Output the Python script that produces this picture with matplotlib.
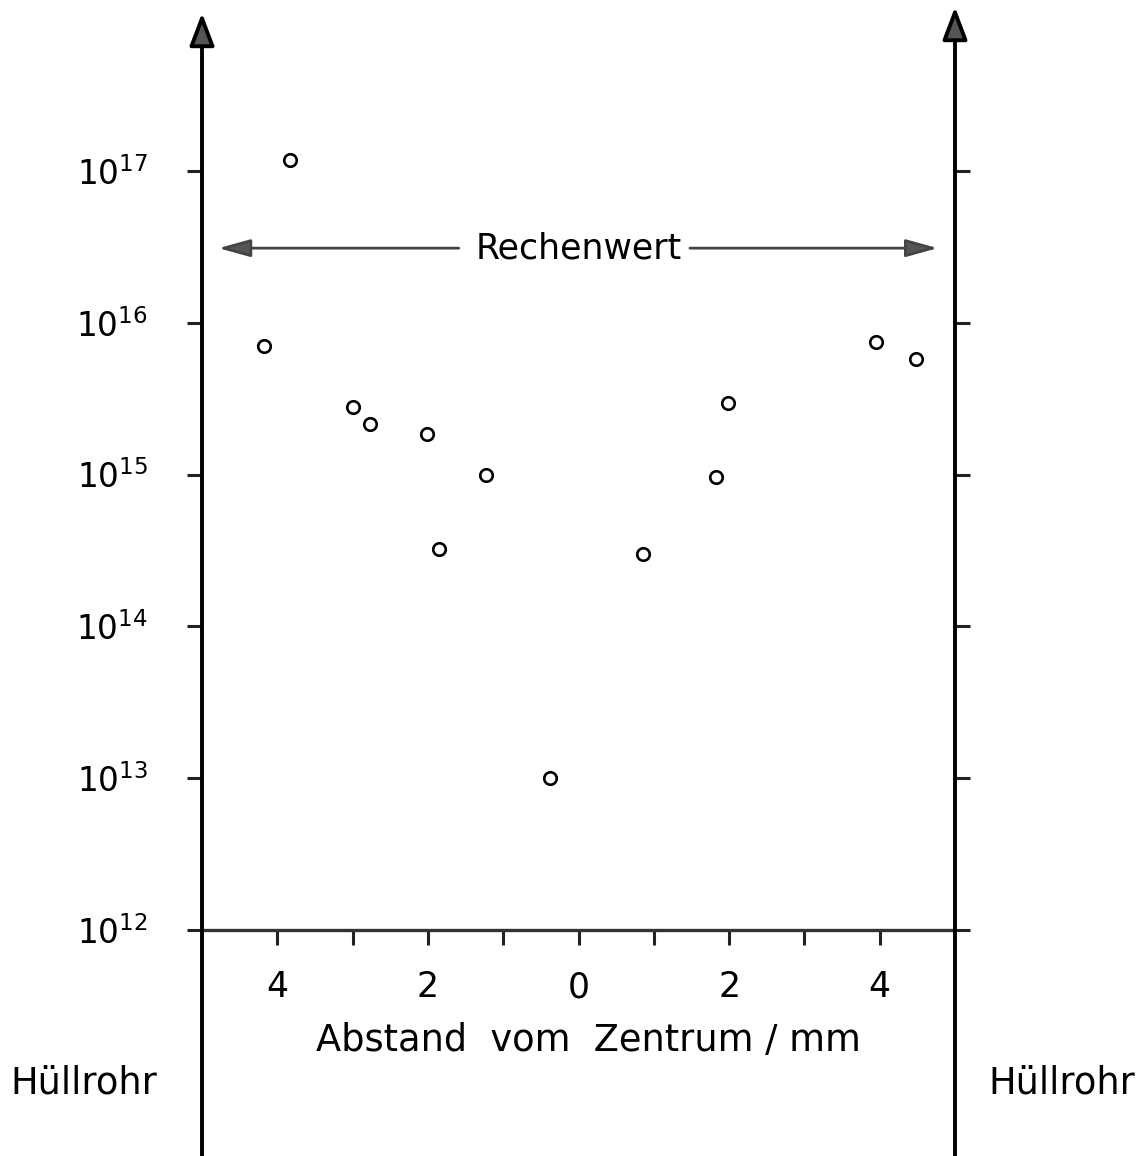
#!/usr/bin/env python3
# Log plot of measured values across the fuel pin, with calculated value marker.

import numpy as np
import matplotlib
matplotlib.use('Agg')
import matplotlib.pyplot as plt

# measured points: distance from centre (mm, left side negative) and value
dist_mm = [-3.83, -4.17, -2.99, -2.77, -2.01, -1.85, -1.23, -0.38, 0.85, 1.83, 1.99, 3.95, 4.48]
values = [1.18e17, 7.0e15, 2.8e15, 2.15e15, 1.85e15, 3.25e14, 1.0e15, 1.0e13,
          3.0e14, 0.97e15, 2.95e15, 7.5e15, 5.8e15]

x_ticks = [-4, -3, -2, -1, 0, 1, 2, 3, 4]
x_ticklabels = ['4', '', '2', '', '0', '', '2', '', '4']
y_exponents = [12, 13, 14, 15, 16, 17]
rechenwert = 3.1e16          # level of the "Rechenwert" arrows
rechen_gap = (-1.59, 1.48)   # where the arrows stop around the text

W, H = 1144, 1156
fig = plt.figure(figsize=(W / 100, H / 100), dpi=100)
# axes: left spine at px 202, right at 955, x axis at py 930, top at py 12
ax = fig.add_axes([202 / W, (H - 930) / H, 753 / W, 918 / H])
ax.set_yscale('log')
ax.set_xlim(-5, 5)
ax.set_ylim(1e12, 10 ** 18.047)

for s in ['top', 'left', 'right']:
    ax.spines[s].set_visible(False)
ax.spines['bottom'].set_linewidth(2.4)
ax.spines['bottom'].set_color('#333333')

ax.plot(dist_mm, values, 'o', mfc='white', mec='black', ms=9, mew=1.9,
        clip_on=False, zorder=5)

# x ticks
ax.set_xticks(x_ticks)
ax.set_xticklabels(x_ticklabels, fontsize=25)
ax.tick_params(axis='x', direction='out', length=11, width=2.2, pad=18,
               colors='#222222', labelcolor='black')
ax.xaxis.set_minor_locator(matplotlib.ticker.NullLocator())

# y ticks, left and right
yt = [10.0 ** e for e in y_exponents]
ax.set_yticks(yt)
ax.set_yticklabels([r'$\mathdefault{10^{%d}}$' % e for e in y_exponents], fontsize=23.5)
ax.yaxis.set_minor_locator(matplotlib.ticker.NullLocator())
ax.tick_params(axis='y', which='both', direction='out', length=11, width=2.2, pad=28,
               left=True, right=True, labelright=False, colors='#222222',
               labelcolor='black')

# vertical axes with arrows, running to the bottom of the figure
bottom = -226 / 918
for xa, top in [(0, 1.0 - 1 / 918), (1, 1.0 + 5 / 918)]:
    ax.annotate('', xy=(xa, top), xytext=(xa, bottom), xycoords='axes fraction',
                annotation_clip=False,
                arrowprops=dict(arrowstyle='-|>,head_length=1.0,head_width=0.38',
                                mutation_scale=20, lw=2.8, fc='#555555', ec='black',
                                shrinkA=0, shrinkB=0))

# Rechenwert arrows
ax.text(0, rechenwert, 'Rechenwert', ha='center', va='center', fontsize=25)
for x0, x1 in [(rechen_gap[0], -4.78), (rechen_gap[1], 4.77)]:
    ax.annotate('', xy=(x1, rechenwert), xytext=(x0, rechenwert),
                arrowprops=dict(arrowstyle='-|>,head_length=1.3,head_width=0.36',
                                mutation_scale=15, lw=2.0, fc='#555555', ec='#444444',
                                shrinkA=0, shrinkB=0))

trans = ax.get_xaxis_transform()
ax.text(0.13, -0.12, 'Abstand  vom  Zentrum / mm', transform=trans,
        ha='center', va='center', fontsize=26.5)
fig.text(84 / W, 1 - 1083 / H, 'Hüllrohr', ha='center', va='center', fontsize=26.5)
fig.text(1062 / W, 1 - 1083 / H, 'Hüllrohr', ha='center', va='center', fontsize=26.5)

fig.savefig('out.png', dpi=100)
